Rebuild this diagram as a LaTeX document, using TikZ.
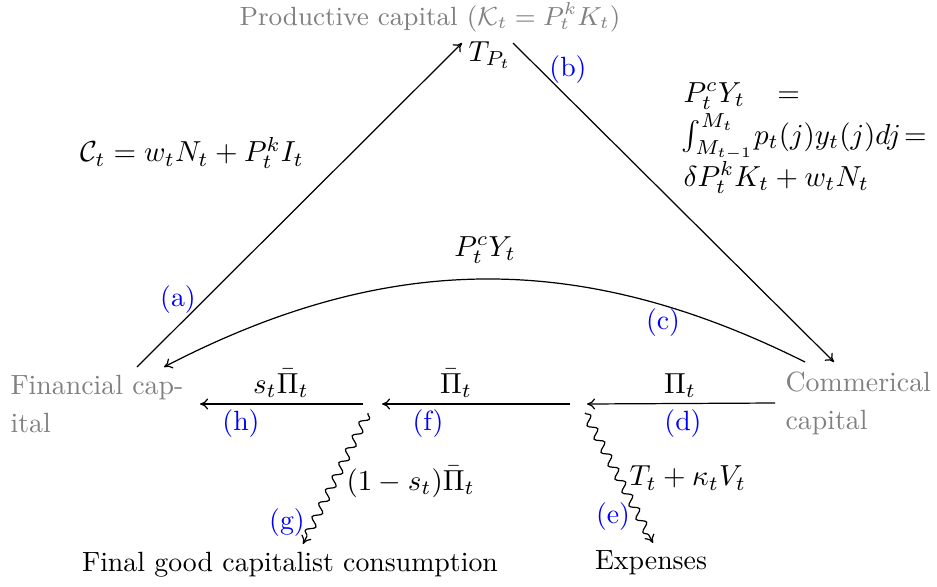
\documentclass[tikz,border=0pt]{standalone}
\usetikzlibrary{decorations.pathmorphing,arrows.meta}
\definecolor{tagblue}{RGB}{0,0,255}
\definecolor{capgray}{RGB}{128,128,128}
\begin{document}
\begin{tikzpicture}[x=0.345pt,y=-0.345pt,
  every node/.style={font=\fontsize{9.6}{13.1}\selectfont, inner sep=0pt},
  capbox/.style={text=capgray, align=left, anchor=west},
  tag/.style={text=tagblue},
  flow/.style={-{To[length=2.8pt,width=3.8pt]}, line width=0.42pt},
  wig/.style={flow, decorate, decoration={snake, amplitude=1.4pt, segment length=5.2pt, post length=2.8pt}}]
\useasboundingbox (0,0) rectangle (937,587);
% capitals
\node[text=capgray, font=\fontsize{9.1}{11}\selectfont] (prod) at (430,17) {Productive capital ($\mathcal{K}_t = P^k_t K_t$)};
\node (tp) at (490,55) {$T_{P_t}$};
\node[capbox] (fin) at (10,404) {Financial cap-\\ital};
\node[capbox] (com) at (785,403) {Commerical\\capital};
\node (cons) at (290,565) {Final good capitalist consumption};
\node (exp) at (651,563) {Expenses};
% attachment points
\coordinate (a0) at (137,367);
\coordinate (a1) at (462,43);
\coordinate (b0) at (513,43);
\coordinate (b1) at (834,362);
\coordinate (c0) at (805,362);
\coordinate (c1) at (164,367);
\coordinate (j2) at (578,404);
\coordinate (j1) at (372,404);
\coordinate (h1) at (200,404);
\coordinate (g1) at (303,544);
\coordinate (e1) at (653,543);
% connectors
\draw[flow] (a0) -- (a1);
\draw[flow] (b0) -- (b1);
\draw[flow] (c0) to[bend right=27] (c1);
\draw[flow] ([shift={(-10,0)}]com.west) -- ([shift={(9,0)}]j2);
\draw[flow] ([shift={(-8,0)}]j2) -- ([shift={(10,0)}]j1);
\draw[flow] ([shift={(-9,0)}]j1) -- (h1);
\draw[wig] ([shift={(-4,9)}]j1) -- (g1);
\draw[wig] ([shift={(7,9)}]j2) -- (e1);
% labels
\node at (192,153) {$\mathcal{C}_t = w_t N_t + P^k_t I_t$};
\node[anchor=base west] (r1) at (683,102) {$P^c_t Y_t \;\;\; =$};
\node[anchor=base west] (r2) at (681,144) {$\int_{M_{t-1}}^{M_t} \! p_t(j) y_t(j) d j \!=$};
\node[anchor=base west] (r3) at (683,186) {$\delta P^k_t K_t + w_t N_t$};
\node at (485,250) {$P^c_t Y_t$};
\node[anchor=base] at (680,393) {$\Pi_t$};
\node[anchor=base] at (456,393) {$\bar{\Pi}_t$};
\node[anchor=base] at (281,393) {$s_t\bar{\Pi}_t$};
\node[anchor=west] at (346,482) {$(1-s_t)\bar{\Pi}_t$};
\node[anchor=west] at (629,478) {$T_t + \kappa_t V_t$};
\node[tag] at (178,300) {(a)};
\node[tag] at (568,70) {(b)};
\node[tag] at (663,323) {(c)};
\node[tag] at (683,424) {(d)};
\node[tag] at (613,517) {(e)};
\node[tag] at (428,424) {(f)};
\node[tag] at (287,523) {(g)};
\node[tag] at (241,424) {(h)};
\end{tikzpicture}
\end{document}
